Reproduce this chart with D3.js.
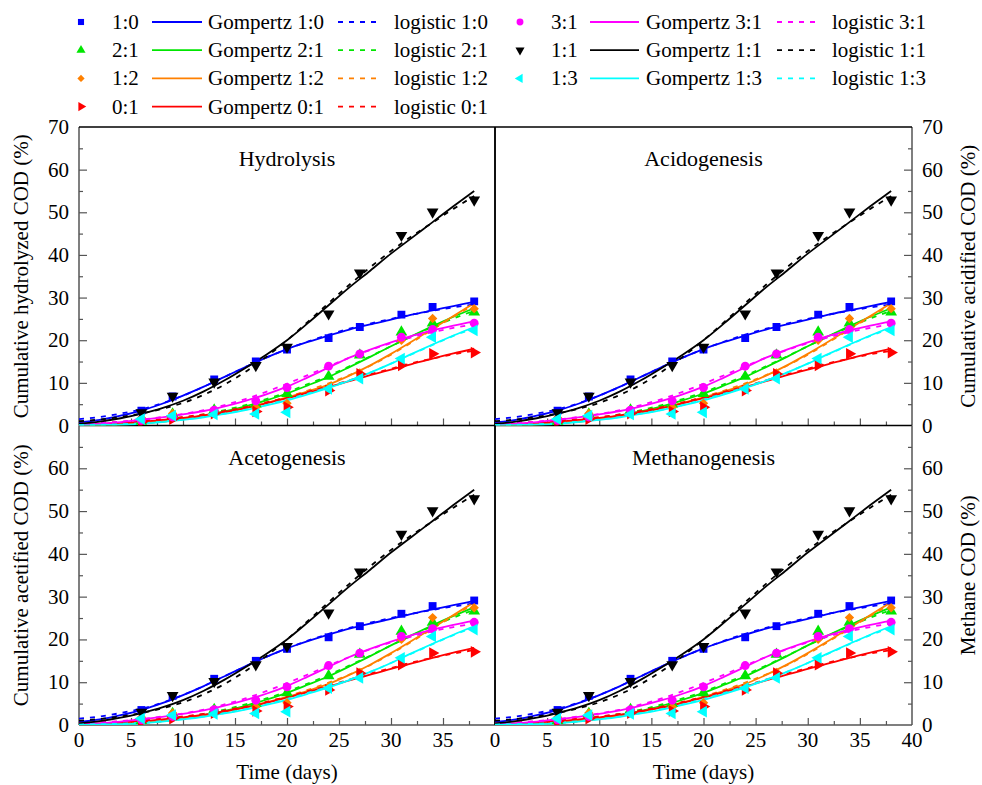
<!DOCTYPE html>
<html>
<head>
<meta charset="utf-8">
<script src="https://cdn.jsdelivr.net/npm/d3@7"></script>
<style>
  body { margin: 0; background: #fff; }
  svg { display: block; font-family: "Liberation Serif", "Times New Roman", serif; }
</style>
</head>
<body>
<div id="chart"></div>
<script>
// ---- Data ----
const ratios = ["1:0", "2:1", "1:2", "0:1", "3:1", "1:1", "1:3"];
const obsDays = [6, 9, 13, 17, 20, 24, 27, 31, 34, 38];
const fitDays = [0, 2, 4, 6, 8, 10, 12, 14, 16, 18, 20, 22, 24, 26, 28, 30, 32, 34, 36, 38];

// measured points
const obs10 = [3.5, 6.8, 10.8, 15.0, 17.8, 20.5, 23.1, 26.0, 27.8, 29.1];
const obs21 = [1.0, 2.7, 3.6, 5.0, 7.5, 11.5, 16.5, 21.9, 24.0, 26.6];
const obs12 = [1.8, 2.8, 3.5, 4.2, 5.2, 8.6, 12.3, 20.0, 25.1, 27.4];
const obs01 = [0.8, 1.5, 2.8, 3.3, 4.3, 8.2, 12.1, 14.1, 16.8, 17.1];
const obs31 = [1.2, 2.0, 3.6, 5.8, 8.9, 13.9, 16.8, 20.7, 22.5, 24.0];
const obs11 = [3.0, 6.9, 10.2, 14.1, 18.4, 26.2, 35.8, 44.6, 50.1, 52.9];
const obs13 = [1.5, 2.3, 2.6, 2.7, 3.1, 8.6, 11.0, 15.7, 20.7, 22.3];

// Gompertz fits
const gomp10 = [0.7, 1.3, 2.3, 3.5, 5.1, 7.0, 9.1, 11.4, 13.7, 15.9, 17.9, 19.6, 21.1, 22.5, 23.7, 24.8, 26.0, 27.0, 28.0, 29.0];
const gomp21 = [0.0, 0.1, 0.2, 0.5, 0.9, 1.5, 2.3, 3.3, 4.5, 5.9, 7.5, 9.4, 11.4, 13.7, 16.1, 18.6, 21.0, 23.3, 25.5, 27.5];
const gomp12 = [0.0, 0.1, 0.2, 0.5, 0.9, 1.5, 2.2, 3.1, 4.1, 5.3, 6.6, 8.0, 9.6, 11.7, 14.1, 16.8, 19.7, 22.7, 25.7, 28.7];
const gomp01 = [0.2, 0.4, 0.6, 0.9, 1.3, 1.8, 2.4, 3.2, 4.1, 5.2, 6.4, 7.7, 9.0, 10.4, 11.8, 13.1, 14.4, 15.7, 16.9, 18.0];
const gomp31 = [0.2, 0.4, 0.8, 1.3, 1.9, 2.6, 3.4, 4.5, 5.8, 7.3, 9.1, 11.3, 13.6, 15.9, 17.8, 19.5, 21.0, 22.3, 23.4, 24.4];
const gomp11 = [0.4, 0.9, 1.7, 2.8, 4.1, 5.8, 8.0, 10.6, 13.5, 16.6, 20.0, 24.0, 28.2, 32.4, 36.3, 40.3, 44.0, 47.7, 51.4, 55.0];
const gomp13 = [0.0, 0.1, 0.2, 0.4, 0.8, 1.3, 1.9, 2.7, 3.6, 4.7, 5.9, 7.3, 8.8, 10.5, 12.4, 14.5, 16.8, 19.0, 21.1, 23.1];

// logistic fits
const logi10 = [1.5, 2.0, 2.8, 3.8, 5.2, 7.0, 9.1, 11.4, 13.7, 15.9, 17.9, 19.7, 21.3, 22.7, 23.9, 25.0, 26.0, 26.9, 27.7, 28.4];
const logi21 = [0.2, 0.3, 0.5, 0.8, 1.2, 1.8, 2.6, 3.6, 4.8, 6.2, 7.8, 9.7, 11.7, 13.9, 16.2, 18.6, 20.9, 23.1, 25.1, 26.9];
const logi12 = [0.1, 0.2, 0.4, 0.7, 1.1, 1.6, 2.3, 3.1, 4.1, 5.3, 6.7, 8.2, 9.9, 11.8, 14.0, 16.6, 19.5, 22.5, 25.5, 28.3];
const logi01 = [0.4, 0.6, 0.8, 1.1, 1.5, 2.0, 2.6, 3.4, 4.3, 5.4, 6.6, 7.9, 9.2, 10.6, 12.0, 13.3, 14.6, 15.7, 16.7, 17.5];
const logi31 = [0.4, 0.6, 0.9, 1.4, 2.0, 2.7, 3.6, 4.8, 6.2, 7.9, 9.8, 11.8, 13.9, 15.9, 17.7, 19.3, 20.7, 21.9, 22.9, 23.7];
const logi11 = [1.0, 1.4, 2.0, 2.8, 3.9, 5.3, 7.2, 9.6, 12.6, 16.1, 20.0, 24.3, 28.7, 33.0, 37.1, 40.9, 44.4, 47.6, 50.8, 53.8];
const logi13 = [0.1, 0.2, 0.3, 0.5, 0.9, 1.4, 2.0, 2.8, 3.7, 4.8, 6.1, 7.5, 9.0, 10.6, 12.4, 14.5, 16.7, 18.9, 21.0, 22.8];

const panelTitles = ["Hydrolysis", "Acidogenesis", "Acetogenesis", "Methanogenesis"];
const yTitles = ["Cumulative hydrolyzed COD (%)", "Cumulative acidified COD (%)",
                 "Cumulative acetified COD (%)", "Methane COD (%)"];
const xTitle = "Time (days)";

const obsList = [obs10, obs21, obs12, obs01, obs31, obs11, obs13];
const gompList = [gomp10, gomp21, gomp12, gomp01, gomp31, gomp11, gomp13];
const logiList = [logi10, logi21, logi12, logi01, logi31, logi11, logi13];

// ---- Styles ----
const colors = ["#0000ff", "#00e600", "#ff8000", "#ff0000", "#ff00ff", "#000000", "#00ffff"];
const shapes = [
  {type: d3.symbolSquare, rot: 0, size: 62},
  {type: d3.symbolTriangle, rot: 0, size: 60},
  {type: d3.symbolSquare, rot: 45, size: 44},
  {type: d3.symbolTriangle, rot: 90, size: 60},
  {type: d3.symbolCircle, rot: 0, size: 62},
  {type: d3.symbolTriangle, rot: 180, size: 60},
  {type: d3.symbolTriangle, rot: -90, size: 60}
];

const W = 982, H = 785;
const xL = 79, xM = 495, xR = 912;
const yT = 127, yM = 425.5, yB = 725;
const fontSize = 21;
const axisGray = "#555";

const svg = d3.select("#chart").append("svg")
  .attr("width", W).attr("height", H);

const series = ratios.map((r, i) => ({
  ratio: r,
  color: colors[i],
  shape: shapes[i],
  points: obsDays.map((d, j) => ({x: d, y: obsList[i][j]})),
  gomp: fitDays.map((d, j) => ({x: d, y: gompList[i][j]})),
  logi: fitDays.map((d, j) => ({x: d, y: logiList[i][j]}))
}));

// ---- Panels ----
function drawPanel(idx){
  const col = idx % 2, row = Math.floor(idx / 2);
  const x0 = col ? xM : xL, x1 = col ? xR : xM;
  const yBot = row ? yB : yM, yTop = row ? yM : yT;

  const x = d3.scaleLinear().domain([0, 40]).range([x0, x1]);
  const y = d3.scaleLinear().domain([0, 70]).range([yBot, yTop]);

  const g = svg.append("g").attr("class", "panel");

  // clip
  const clipId = "clip" + idx;
  svg.append("clipPath").attr("id", clipId)
    .append("rect").attr("x", x0).attr("y", yTop).attr("width", x1 - x0).attr("height", yBot - yTop);

  // x ticks (inward)
  const xMajor = row ? (col ? [0, 5, 10, 15, 20, 25, 30, 35, 40] : [0, 5, 10, 15, 20, 25, 30, 35]) : [];
  const xAxis = d3.axisBottom(x)
    .tickValues([5, 10, 15, 20, 25, 30, 35])
    .tickSizeInner(-7).tickSizeOuter(0).tickFormat("");
  const xMinor = d3.axisBottom(x)
    .tickValues([2.5, 7.5, 12.5, 17.5, 22.5, 27.5, 32.5, 37.5])
    .tickSizeInner(-4).tickSizeOuter(0).tickFormat("");
  [xAxis, xMinor].forEach(a => {
    const ga = g.append("g").attr("transform", `translate(0,${yBot})`).call(a);
    ga.select(".domain").remove();
    ga.selectAll("line").attr("stroke", axisGray).attr("stroke-width", 1.2);
  });
  g.selectAll(".xlab").data(xMajor).enter().append("text")
    .attr("class", "xlab")
    .attr("x", d => x(d)).attr("y", yBot + 22)
    .attr("text-anchor", "middle")
    .style("font-size", fontSize + "px")
    .text(d => d);

  // y ticks (inward, on the outer side)
  const yMajorVals = row ? [0, 10, 20, 30, 40, 50, 60] : [0, 10, 20, 30, 40, 50, 60, 70];
  const yAxisMajor = (col ? d3.axisRight(y) : d3.axisLeft(y))
    .tickValues([10, 20, 30, 40, 50, 60])
    .tickSizeInner(-8).tickSizeOuter(0).tickFormat("");
  const yAxisMinor = (col ? d3.axisRight(y) : d3.axisLeft(y))
    .tickValues([5, 15, 25, 35, 45, 55, 65])
    .tickSizeInner(-4).tickSizeOuter(0).tickFormat("");
  [yAxisMajor, yAxisMinor].forEach(a => {
    const ga = g.append("g").attr("transform", `translate(${col ? x1 : x0},0)`).call(a);
    ga.select(".domain").remove();
    ga.selectAll("line").attr("stroke", axisGray).attr("stroke-width", 1.2);
  });
  g.selectAll(".ylab").data(yMajorVals).enter().append("text")
    .attr("class", "ylab")
    .attr("x", col ? x1 + 10 : x0 - 10)
    .attr("y", d => y(d) + 7)
    .attr("text-anchor", col ? "start" : "end")
    .style("font-size", fontSize + "px")
    .text(d => d);

  // frame: outer sides gray, inner dividers black
  const outerX = col ? x1 : x0, innerX = col ? x0 : x1;
  g.append("line").attr("x1", outerX).attr("x2", outerX).attr("y1", yTop).attr("y2", yBot)
    .attr("stroke", axisGray).attr("stroke-width", 1.5);
  g.append("line").attr("x1", innerX).attr("x2", innerX).attr("y1", yTop).attr("y2", yBot)
    .attr("stroke", "#000").attr("stroke-width", 1.5);
  g.append("line").attr("x1", x0).attr("x2", x1).attr("y1", yBot).attr("y2", yBot)
    .attr("stroke", row ? axisGray : "#000").attr("stroke-width", 1.5);
  if (!row) {
    g.append("line").attr("x1", x0).attr("x2", x1).attr("y1", yTop).attr("y2", yTop)
      .attr("stroke", "#000").attr("stroke-width", 1.5);
  }

  // fits
  const line = d3.line().x(d => x(d.x)).y(d => y(d.y)).curve(d3.curveMonotoneX);
  const plot = g.append("g").attr("clip-path", `url(#${clipId})`);

  series.forEach(s => {
    plot.append("path").datum(s.gomp)
      .attr("d", line).attr("fill", "none")
      .attr("stroke", s.color).attr("stroke-width", 1.8);
    plot.append("path").datum(s.logi)
      .attr("d", line).attr("fill", "none")
      .attr("stroke", s.color).attr("stroke-width", 1.8)
      .attr("stroke-dasharray", "5,6");
  });

  // points
  series.forEach(s => {
    plot.selectAll(null).data(s.points).enter().append("path")
      .attr("d", d3.symbol().type(s.shape.type).size(s.shape.size))
      .attr("transform", d => `translate(${x(d.x)},${y(d.y)}) rotate(${s.shape.rot})`)
      .attr("fill", s.color);
  });

  // panel title
  g.append("text")
    .attr("x", (x0 + x1) / 2).attr("y", yTop + 39)
    .attr("text-anchor", "middle")
    .style("font-size", "22px")
    .text(panelTitles[idx]);

  // y title
  const ty = (yTop + yBot) / 2;
  const tx = col ? 975 : 28;
  g.append("text")
    .attr("transform", `translate(${tx},${ty}) rotate(-90)`)
    .attr("text-anchor", "middle")
    .style("font-size", fontSize + "px")
    .text(yTitles[idx]);

  // x title
  if (row) {
    g.append("text")
      .attr("x", (x0 + x1) / 2).attr("y", 779)
      .attr("text-anchor", "middle")
      .style("font-size", fontSize + "px")
      .text(xTitle);
  }
}

[0, 1, 2, 3].forEach(drawPanel);

// ---- Legend ----
const blocks = [
  {items: [0, 1, 2, 3], mark: 81, lab: 112, g1: 152, g2: 202, gt: 208, l1: 338, l2: 380, lt: 394},
  {items: [4, 5, 6], mark: 520, lab: 551, g1: 590, g2: 639, gt: 646, l1: 777, l2: 819, lt: 832}
];
const legend = svg.append("g").attr("class", "legend");
blocks.forEach(b => {
  b.items.forEach((si, r) => {
    const s = series[si];
    const cy = 22 + r * 28.2;
    legend.append("path")
      .attr("d", d3.symbol().type(s.shape.type).size(s.shape.size * 0.6))
      .attr("transform", `translate(${b.mark},${cy}) rotate(${s.shape.rot})`)
      .attr("fill", s.color);
    legend.append("text").attr("x", b.lab).attr("y", cy + 7)
      .style("font-size", fontSize + "px").text(s.ratio);
    legend.append("line").attr("x1", b.g1).attr("x2", b.g2).attr("y1", cy).attr("y2", cy)
      .attr("stroke", s.color).attr("stroke-width", 1.8);
    legend.append("text").attr("x", b.gt).attr("y", cy + 7)
      .style("font-size", fontSize + "px").text("Gompertz " + s.ratio);
    legend.append("line").attr("x1", b.l1).attr("x2", b.l2).attr("y1", cy).attr("y2", cy)
      .attr("stroke", s.color).attr("stroke-width", 1.8)
      .attr("stroke-dasharray", "5,6");
    legend.append("text").attr("x", b.lt).attr("y", cy + 7)
      .style("font-size", fontSize + "px").text("logistic " + s.ratio);
  });
});
</script>
</body>
</html>
